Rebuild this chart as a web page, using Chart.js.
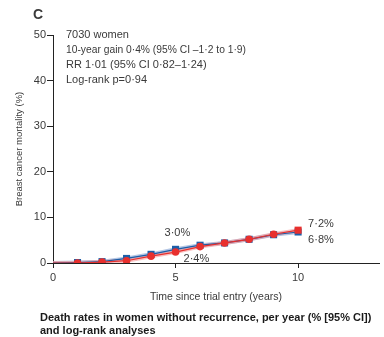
<!DOCTYPE html>
<html><head><meta charset="utf-8">
<script src="https://cdn.jsdelivr.net/npm/chart.js@4/dist/chart.umd.min.js"></script>
<style>html,body{margin:0;padding:0;background:#fff}#wrap{width:384px;height:337px;position:relative}</style>
</head><body><div id="wrap"><canvas id="c"></canvas></div>
<script>
const years = [0, 1, 2, 3, 4, 5, 6, 7, 8, 9, 10];
const blueValues = [0, 0.1, 0.3, 1.0, 1.9, 3.0, 3.9, 4.4, 5.2, 6.2, 6.8];
const redValues  = [0, 0.0, 0.2, 0.5, 1.5, 2.4, 3.6, 4.4, 5.2, 6.3, 7.2];
const yTicks = [0, 10, 20, 30, 40, 50];
const xTicks = [0, 5, 10];
const panelLetter = "C";
const infoLines = ["7030 women", "10-year gain 0·4% (95% CI –1·2 to 1·9)", "RR 1·01 (95% CI 0·82–1·24)", "Log-rank p=0·94"];
const yTitle = "Breast cancer mortality (%)";
const xTitle = "Time since trial entry (years)";
const captionLines = ["Death rates in women without recurrence, per year (% [95% CI])", "and log-rank analyses"];
const pointLabels = [
  {series: "blue", index: 5, text: "3·0%"},
  {series: "red", index: 5, text: "2·4%"},
  {series: "red", index: 10, text: "7·2%"},
  {series: "blue", index: 10, text: "6·8%"}
];

const FONT = "'Liberation Sans', Arial, sans-serif";
const TXT = "#3a3a3a";
const BLUE = "#1d5ea8";
const RED = "#e8302e";

const toXY = arr => years.map((x, i) => ({x: x, y: arr[i]}));

const textPlugin = {
  id: "texts",
  afterDraw(chart) {
    const ctx = chart.ctx;
    const xs = chart.scales.x, ys = chart.scales.y;
    ctx.save();
    ctx.fillStyle = TXT;
    ctx.textBaseline = "middle";
    ctx.textAlign = "left";
    ctx.font = "bold 14px " + FONT;
    ctx.fillText(panelLetter, 33, 15);
    ctx.font = "11px " + FONT;
    infoLines.forEach((t, i) => ctx.fillText(t, 66, 35 + i * 15, 180));
    const offs = {"blue5": [-11, -16], "red5": [8, 7], "red10": [10, -6], "blue10": [10, 8]};
    pointLabels.forEach(p => {
      const arr = p.series === "blue" ? blueValues : redValues;
      const px = xs.getPixelForValue(years[p.index]);
      const py = ys.getPixelForValue(arr[p.index]);
      const o = offs[p.series + p.index];
      ctx.fillText(p.text, px + o[0], py + o[1]);
    });
    ctx.fillStyle = "#1a1a1a";
    ctx.font = "bold 11px " + FONT;
    captionLines.forEach((t, i) => ctx.fillText(t, 40, 318 + i * 13));
    ctx.restore();
  }
};

new Chart(document.getElementById("c"), {
  type: "line",
  data: {
    datasets: [
      {data: toXY(redValues), borderColor: RED, backgroundColor: RED, borderWidth: 1.2, tension: 0,
       pointStyle: c => c.dataIndex === years.length - 1 ? "rect" : "circle",
       pointRadius: c => c.dataIndex === 0 ? 0 : (c.dataIndex === years.length - 1 ? 5 : 3.8), pointBorderWidth: 0},
      {data: toXY(blueValues), borderColor: BLUE, backgroundColor: BLUE, borderWidth: 1.2, tension: 0,
       pointStyle: "rect", pointRadius: c => c.dataIndex === 0 ? 0 : 5, pointBorderWidth: 0},
      {data: toXY(redValues), borderColor: "rgba(245,150,150,0.6)", borderWidth: 4, pointRadius: 0, tension: 0},
      {data: toXY(blueValues), borderColor: "rgba(130,160,210,0.6)", borderWidth: 4, pointRadius: 0, tension: 0}
    ]
  },
  options: {
    responsive: true, maintainAspectRatio: false, animation: false,
    layout: {padding: {top: 35, right: 0, left: 0, bottom: 0}},
    plugins: {legend: {display: false}, tooltip: {enabled: false}},
    scales: {
      x: {
        type: "linear", min: 0, max: 13.3,
        afterBuildTicks: s => { s.ticks = xTicks.map(v => ({value: v})); },
        afterFit: s => { s.height = 74; },
        grid: {display: true, drawOnChartArea: false, drawTicks: true, tickLength: 5, color: "#222"},
        border: {display: true, color: "#222", width: 1},
        ticks: {color: TXT, font: {family: FONT, size: 11}, padding: 3, maxRotation: 0},
        title: {display: true, text: xTitle, color: TXT, font: {family: FONT, size: 10.5}, padding: {top: 4, bottom: 34}}
      },
      y: {
        type: "linear", min: 0, max: 50,
        afterBuildTicks: s => { s.ticks = yTicks.map(v => ({value: v})); },
        afterFit: s => { s.width = 53; },
        grid: {display: true, drawOnChartArea: false, drawTicks: true, tickLength: 6, color: "#222"},
        border: {display: true, color: "#222", width: 1},
        ticks: {color: TXT, font: {family: FONT, size: 11}, padding: 1},
        title: {display: true, text: yTitle, color: TXT, font: {family: FONT, size: 9.5}, padding: {top: 14, bottom: 0}}
      }
    }
  },
  plugins: [textPlugin]
});
</script></body></html>
